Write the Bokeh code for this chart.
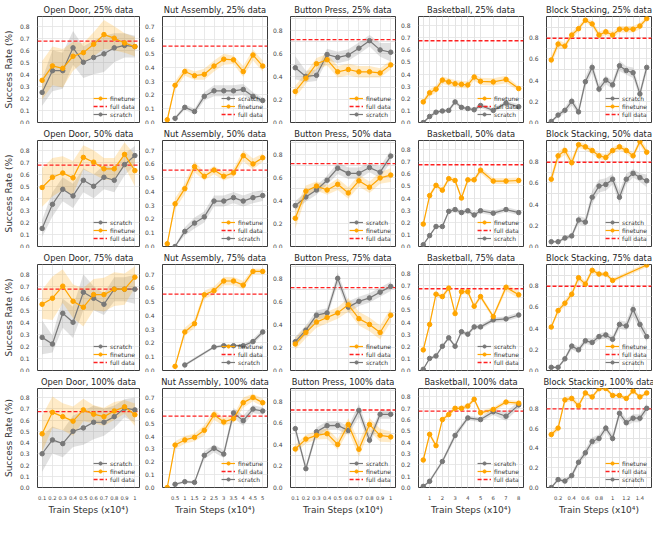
import numpy as np
from bokeh.plotting import figure
from bokeh.layouts import gridplot
from bokeh.models import FixedTicker, Range1d, Legend, LegendItem, NumeralTickFormatter
from bokeh.embed import file_html
from bokeh.resources import INLINE

# ---------------- data ----------------
TASKS = ["Open Door", "Nut Assembly", "Button Press", "Basketball", "Block Stacking"]
FRACTIONS = ["25%", "50%", "75%", "100%"]
FULL_DATA = [0.675, 0.555, 0.72, 0.675, 0.795]

OD_X = [0.1, 0.2, 0.3, 0.4, 0.5, 0.6, 0.7, 0.8, 0.9, 1.0]
BP_X = [0.1, 0.2, 0.3, 0.4, 0.5, 0.6, 0.7, 0.8, 0.9, 1.0]
NA_X_FT = [0.1, 0.5, 1.0, 1.5, 2.0, 2.5, 3.0, 3.5, 4.0, 4.5, 5.0]
NA_X_SC = [0.5, 1.0, 1.5, 2.0, 2.5, 3.0, 3.5, 4.0, 4.5, 5.0]
NA75_X_FT = [0.5, 1.0, 1.5, 2.0, 2.5, 3.0, 3.5, 4.0, 4.5, 5.0]
NA75_X_SC = [1.0, 2.5, 3.0, 3.5, 4.0, 4.5, 5.0]
BB_X = [0.5, 1.0, 1.5, 2.0, 2.5, 3.0, 3.5, 4.0, 4.5, 5.0, 6.0, 7.0, 8.0]
BB100_X_SC = [0.5, 1.0, 2.0, 3.0, 4.0, 5.0, 6.0, 7.0, 8.0]
BS_X = [0.1, 0.2, 0.3, 0.4, 0.5, 0.6, 0.7, 0.8, 0.9, 1.0, 1.1, 1.2, 1.3, 1.4, 1.5]
BS75_X_FT = [0.1, 0.2, 0.3, 0.4, 0.5, 0.6, 0.7, 0.8, 0.9, 1.0, 1.5]

# --- 25% ---
OD25_FT = [0.35, 0.47, 0.45, 0.55, 0.58, 0.65, 0.73, 0.70, 0.66, 0.63]
OD25_FT_SD = [0.16, 0.16, 0.16, 0.12, 0.08, 0.10, 0.12, 0.10, 0.08, 0.08]
OD25_SC = [0.25, 0.43, 0.43, 0.62, 0.50, 0.54, 0.57, 0.62, 0.64, 0.63]
OD25_SC_SD = [0.11, 0.17, 0.15, 0.14, 0.13, 0.14, 0.15, 0.12, 0.10, 0.09]
NA25_FT = [0.02, 0.27, 0.37, 0.34, 0.35, 0.41, 0.46, 0.455, 0.37, 0.49, 0.41]
NA25_FT_SD = [0.01, 0.03, 0.03, 0.03, 0.04, 0.04, 0.04, 0.03, 0.04, 0.04, 0.04]
NA25_SC = [0.03, 0.11, 0.08, 0.19, 0.23, 0.23, 0.23, 0.24, 0.19, 0.16]
NA25_SC_SD = [0.01, 0.02, 0.02, 0.03, 0.04, 0.04, 0.04, 0.04, 0.03, 0.02]
BP25_FT = [0.27, 0.385, 0.51, 0.545, 0.44, 0.46, 0.44, 0.44, 0.43, 0.50]
BP25_FT_SD = [0.05, 0.05, 0.05, 0.05, 0.05, 0.05, 0.05, 0.05, 0.04, 0.04]
BP25_SC = [0.475, 0.40, 0.41, 0.59, 0.565, 0.585, 0.645, 0.71, 0.63, 0.61]
BP25_SC_SD = [0.10, 0.05, 0.05, 0.05, 0.05, 0.05, 0.05, 0.05, 0.06, 0.08]
BB25_FT = [0.17, 0.245, 0.275, 0.35, 0.335, 0.32, 0.315, 0.31, 0.375, 0.34, 0.335, 0.355, 0.28]
BB25_FT_SD = [0.02, 0.03, 0.03, 0.03, 0.03, 0.03, 0.03, 0.03, 0.03, 0.03, 0.03, 0.03, 0.02]
BB25_SC = [0.0, 0.05, 0.085, 0.095, 0.10, 0.17, 0.125, 0.115, 0.105, 0.14, 0.10, 0.16, 0.13]
BB25_SC_SD = [0.005, 0.015, 0.015, 0.015, 0.015, 0.02, 0.015, 0.015, 0.015, 0.02, 0.015, 0.02, 0.02]
BS25_FT = [0.59, 0.74, 0.72, 0.825, 0.885, 0.965, 0.93, 0.825, 0.855, 0.825, 0.88, 0.88, 0.88, 0.91, 0.98]
BS25_FT_SD = [0.04, 0.04, 0.03, 0.03, 0.03, 0.02, 0.03, 0.03, 0.03, 0.03, 0.03, 0.03, 0.03, 0.03, 0.02]
BS25_SC = [0.01, 0.07, 0.115, 0.20, 0.10, 0.385, 0.52, 0.315, 0.40, 0.355, 0.535, 0.49, 0.47, 0.27, 0.52]
BS25_SC_SD = [0.01, 0.02, 0.03, 0.04, 0.03, 0.05, 0.05, 0.04, 0.04, 0.04, 0.05, 0.04, 0.05, 0.04, 0.05]

# --- 50% ---
OD50_FT = [0.49, 0.575, 0.61, 0.57, 0.74, 0.70, 0.645, 0.645, 0.765, 0.63]
OD50_FT_SD = [0.16, 0.16, 0.14, 0.14, 0.10, 0.10, 0.09, 0.09, 0.10, 0.13]
OD50_SC = [0.15, 0.35, 0.475, 0.42, 0.55, 0.50, 0.575, 0.55, 0.68, 0.755]
OD50_SC_SD = [0.07, 0.10, 0.10, 0.10, 0.10, 0.10, 0.10, 0.10, 0.09, 0.08]
NA50_FT = [0.02, 0.31, 0.42, 0.58, 0.51, 0.555, 0.51, 0.535, 0.66, 0.60, 0.645]
NA50_FT_SD = [0.01, 0.04, 0.04, 0.04, 0.03, 0.03, 0.03, 0.03, 0.04, 0.04, 0.03]
NA50_SC = [0.0, 0.11, 0.17, 0.215, 0.33, 0.33, 0.355, 0.33, 0.355, 0.37]
NA50_SC_SD = [0.005, 0.03, 0.04, 0.04, 0.04, 0.04, 0.04, 0.04, 0.04, 0.04]
BP50_FT = [0.245, 0.48, 0.525, 0.49, 0.54, 0.465, 0.57, 0.515, 0.595, 0.62]
BP50_FT_SD = [0.09, 0.05, 0.04, 0.04, 0.05, 0.05, 0.05, 0.05, 0.05, 0.06]
BP50_SC = [0.355, 0.43, 0.49, 0.575, 0.68, 0.635, 0.635, 0.685, 0.645, 0.785]
BP50_SC_SD = [0.04, 0.04, 0.04, 0.04, 0.05, 0.05, 0.05, 0.04, 0.05, 0.05]
BB50_FT = [0.185, 0.42, 0.505, 0.465, 0.56, 0.545, 0.40, 0.55, 0.55, 0.63, 0.54, 0.54, 0.545]
BB50_FT_SD = [0.02, 0.02, 0.02, 0.02, 0.02, 0.02, 0.02, 0.02, 0.02, 0.025, 0.025, 0.025, 0.025]
BB50_SC = [0.015, 0.09, 0.165, 0.165, 0.29, 0.305, 0.28, 0.295, 0.26, 0.295, 0.275, 0.305, 0.28]
BB50_SC_SD = [0.005, 0.01, 0.015, 0.015, 0.02, 0.02, 0.02, 0.02, 0.02, 0.02, 0.02, 0.02, 0.02]
BS50_FT = [0.635, 0.855, 0.905, 0.79, 0.96, 0.94, 0.905, 0.855, 0.84, 0.905, 0.94, 0.905, 0.855, 0.99, 0.89]
BS50_FT_SD = [0.05, 0.04, 0.04, 0.04, 0.03, 0.03, 0.03, 0.03, 0.03, 0.03, 0.03, 0.03, 0.03, 0.03, 0.04]
BS50_SC = [0.045, 0.045, 0.08, 0.10, 0.25, 0.23, 0.465, 0.57, 0.585, 0.635, 0.465, 0.635, 0.69, 0.65, 0.62]
BS50_SC_SD = [0.01, 0.01, 0.02, 0.02, 0.04, 0.04, 0.06, 0.06, 0.06, 0.05, 0.06, 0.05, 0.04, 0.04, 0.06]

# --- 75% ---
OD75_FT = [0.55, 0.60, 0.70, 0.575, 0.525, 0.63, 0.63, 0.675, 0.675, 0.775]
OD75_FT_SD = [0.12, 0.18, 0.14, 0.14, 0.16, 0.13, 0.14, 0.14, 0.13, 0.09]
OD75_SC = [0.275, 0.22, 0.475, 0.40, 0.65, 0.60, 0.55, 0.675, 0.675, 0.675]
OD75_SC_SD = [0.14, 0.07, 0.12, 0.13, 0.15, 0.10, 0.09, 0.10, 0.10, 0.12]
NA75_FT = [0.03, 0.28, 0.34, 0.55, 0.58, 0.65, 0.65, 0.62, 0.72, 0.72]
NA75_FT_SD = [0.01, 0.03, 0.03, 0.03, 0.03, 0.03, 0.03, 0.03, 0.02, 0.02]
NA75_SC = [0.04, 0.17, 0.18, 0.18, 0.18, 0.21, 0.28]
NA75_SC_SD = [0.01, 0.01, 0.01, 0.01, 0.01, 0.02, 0.02]
BP75_FT = [0.23, 0.33, 0.42, 0.46, 0.50, 0.57, 0.45, 0.40, 0.33, 0.48]
BP75_FT_SD = [0.05, 0.05, 0.05, 0.05, 0.05, 0.06, 0.06, 0.06, 0.06, 0.06]
BP75_SC = [0.25, 0.35, 0.48, 0.50, 0.80, 0.55, 0.60, 0.63, 0.68, 0.73]
BP75_SC_SD = [0.04, 0.04, 0.04, 0.04, 0.05, 0.05, 0.04, 0.04, 0.04, 0.04]
BB75_FT = [0.17, 0.38, 0.63, 0.61, 0.68, 0.47, 0.65, 0.65, 0.53, 0.61, 0.445, 0.687, 0.625]
BB75_FT_SD = [0.02, 0.02, 0.02, 0.02, 0.02, 0.02, 0.02, 0.02, 0.02, 0.02, 0.02, 0.03, 0.03]
BB75_SC = [0.01, 0.10, 0.12, 0.20, 0.27, 0.20, 0.32, 0.30, 0.36, 0.36, 0.418, 0.426, 0.458]
BB75_SC_SD = [0.005, 0.01, 0.01, 0.015, 0.015, 0.015, 0.015, 0.015, 0.02, 0.02, 0.02, 0.02, 0.02]
BS75_FT = [0.41, 0.565, 0.635, 0.72, 0.875, 0.815, 0.945, 0.91, 0.91, 0.85, 0.995]
BS75_FT_SD = [0.02, 0.03, 0.03, 0.03, 0.03, 0.03, 0.03, 0.02, 0.02, 0.02, 0.02]
BS75_SC = [0.03, 0.03, 0.11, 0.23, 0.195, 0.28, 0.265, 0.32, 0.335, 0.295, 0.435, 0.42, 0.575, 0.435, 0.32]
BS75_SC_SD = [0.01, 0.01, 0.02, 0.03, 0.03, 0.03, 0.03, 0.03, 0.03, 0.03, 0.04, 0.04, 0.06, 0.05, 0.05]

# --- 100% ---
OD100_FT = [0.477, 0.668, 0.63, 0.59, 0.69, 0.652, 0.63, 0.68, 0.717, 0.647]
OD100_FT_SD = [0.16, 0.14, 0.12, 0.13, 0.10, 0.08, 0.08, 0.08, 0.06, 0.10]
OD100_SC = [0.30, 0.423, 0.39, 0.50, 0.53, 0.58, 0.58, 0.63, 0.705, 0.69]
OD100_SC_SD = [0.16, 0.12, 0.12, 0.14, 0.15, 0.15, 0.12, 0.10, 0.08, 0.11]
NA100_FT = [0.0, 0.33, 0.37, 0.39, 0.445, 0.565, 0.51, 0.535, 0.66, 0.70, 0.66]
NA100_FT_SD = [0.005, 0.03, 0.03, 0.03, 0.04, 0.04, 0.03, 0.03, 0.04, 0.03, 0.03]
NA100_SC = [0.025, 0.045, 0.04, 0.25, 0.305, 0.26, 0.58, 0.52, 0.61, 0.595]
NA100_SC_SD = [0.01, 0.01, 0.01, 0.03, 0.03, 0.03, 0.04, 0.04, 0.03, 0.03]
BP100_FT = [0.358, 0.45, 0.485, 0.50, 0.40, 0.585, 0.355, 0.585, 0.485, 0.47]
BP100_FT_SD = [0.04, 0.04, 0.04, 0.05, 0.05, 0.06, 0.07, 0.06, 0.06, 0.05]
BP100_SC = [0.547, 0.175, 0.518, 0.575, 0.577, 0.53, 0.716, 0.44, 0.68, 0.68]
BP100_SC_SD = [0.04, 0.03, 0.04, 0.04, 0.04, 0.04, 0.06, 0.05, 0.04, 0.04]
BB100_FT = [0.243, 0.47, 0.37, 0.60, 0.645, 0.70, 0.70, 0.72, 0.78, 0.66, 0.69, 0.755, 0.745]
BB100_FT_SD = [0.02, 0.02, 0.02, 0.02, 0.02, 0.02, 0.02, 0.02, 0.02, 0.02, 0.02, 0.02, 0.02]
BB100_SC = [0.01, 0.055, 0.23, 0.46, 0.615, 0.60, 0.67, 0.63, 0.73]
BB100_SC_SD = [0.005, 0.015, 0.02, 0.03, 0.02, 0.02, 0.03, 0.04, 0.03]
BS100_FT = [0.535, 0.60, 0.885, 0.90, 0.825, 0.955, 0.915, 0.998, 1.0, 0.93, 0.93, 0.90, 0.975, 0.915, 0.955]
BS100_FT_SD = [0.03, 0.03, 0.03, 0.03, 0.03, 0.02, 0.02, 0.02, 0.02, 0.02, 0.02, 0.02, 0.02, 0.02, 0.02]
BS100_SC = [0.0, 0.08, 0.065, 0.12, 0.255, 0.35, 0.465, 0.495, 0.60, 0.495, 0.75, 0.655, 0.70, 0.70, 0.80]
BS100_SC_SD = [0.005, 0.02, 0.02, 0.03, 0.03, 0.04, 0.04, 0.04, 0.04, 0.04, 0.04, 0.04, 0.04, 0.04, 0.05]

# legend order per panel: f=finetune, d=full data, s=scratch
LEGEND_ORDER = [
    ["fds", "sfd", "fds", "fds", "sfd"],
    ["sfd", "fds", "sfd", "fds", "sfd"],
    ["sfd", "fds", "fds", "sfd", "fds"],
    ["sfd", "fds", "sfd", "sfd", "fds"],
]

# panel table: (x_ft, ft, ft_sd, x_sc, sc, sc_sd)
PANELS = [
    [(OD_X, OD25_FT, OD25_FT_SD, OD_X, OD25_SC, OD25_SC_SD),
     (NA_X_FT, NA25_FT, NA25_FT_SD, NA_X_SC, NA25_SC, NA25_SC_SD),
     (BP_X, BP25_FT, BP25_FT_SD, BP_X, BP25_SC, BP25_SC_SD),
     (BB_X, BB25_FT, BB25_FT_SD, BB_X, BB25_SC, BB25_SC_SD),
     (BS_X, BS25_FT, BS25_FT_SD, BS_X, BS25_SC, BS25_SC_SD)],
    [(OD_X, OD50_FT, OD50_FT_SD, OD_X, OD50_SC, OD50_SC_SD),
     (NA_X_FT, NA50_FT, NA50_FT_SD, NA_X_SC, NA50_SC, NA50_SC_SD),
     (BP_X, BP50_FT, BP50_FT_SD, BP_X, BP50_SC, BP50_SC_SD),
     (BB_X, BB50_FT, BB50_FT_SD, BB_X, BB50_SC, BB50_SC_SD),
     (BS_X, BS50_FT, BS50_FT_SD, BS_X, BS50_SC, BS50_SC_SD)],
    [(OD_X, OD75_FT, OD75_FT_SD, OD_X, OD75_SC, OD75_SC_SD),
     (NA75_X_FT, NA75_FT, NA75_FT_SD, NA75_X_SC, NA75_SC, NA75_SC_SD),
     (BP_X, BP75_FT, BP75_FT_SD, BP_X, BP75_SC, BP75_SC_SD),
     (BB_X, BB75_FT, BB75_FT_SD, BB_X, BB75_SC, BB75_SC_SD),
     (BS75_X_FT, BS75_FT, BS75_FT_SD, BS_X, BS75_SC, BS75_SC_SD)],
    [(OD_X, OD100_FT, OD100_FT_SD, OD_X, OD100_SC, OD100_SC_SD),
     (NA_X_FT, NA100_FT, NA100_FT_SD, NA_X_SC, NA100_SC, NA100_SC_SD),
     (BP_X, BP100_FT, BP100_FT_SD, BP_X, BP100_SC, BP100_SC_SD),
     (BB_X, BB100_FT, BB100_FT_SD, BB100_X_SC, BB100_SC, BB100_SC_SD),
     (BS_X, BS100_FT, BS100_FT_SD, BS_X, BS100_SC, BS100_SC_SD)],
]

# axis settings per task
Y_TICKS = [
    [0.0, 0.1, 0.2, 0.3, 0.4, 0.5, 0.6, 0.7, 0.8],
    [0.0, 0.1, 0.2, 0.3, 0.4, 0.5, 0.6, 0.7],
    [0.0, 0.2, 0.4, 0.6, 0.8],
    [0.0, 0.1, 0.2, 0.3, 0.4, 0.5, 0.6, 0.7, 0.8],
    [0.0, 0.2, 0.4, 0.6, 0.8],
]
Y_MINOR = [[], [], [0.1, 0.3, 0.5, 0.7, 0.9], [], [0.1, 0.3, 0.5, 0.7, 0.9]]
Y_TOP = [0.88, 0.77, 0.92, 0.875, 1.0]
X_TICKS = [
    [0.1, 0.2, 0.3, 0.4, 0.5, 0.6, 0.7, 0.8, 0.9, 1.0],
    [0.5, 1.0, 1.5, 2.0, 2.5, 3.0, 3.5, 4.0, 4.5, 5.0],
    [0.1, 0.2, 0.3, 0.4, 0.5, 0.6, 0.7, 0.8, 0.9, 1.0],
    [1, 2, 3, 4, 5, 6, 7, 8],
    [0.2, 0.4, 0.6, 0.8, 1.0, 1.2, 1.4],
]
X_MINOR = [[], [], [], BB_X, BS_X]
X_RANGE = [(0.055, 1.045), (-0.145, 5.245), (0.055, 1.045), (0.125, 8.375), (0.03, 1.57)]

ORANGE = "#FFA500"
GREY = "#787878"
RED = "#FF2020"
GRID = "#e3e3e3"
FONT = "DejaVu Sans"

COL_W = [141, 128, 128, 128, 128]
ROW_H = [124, 124, 124, 145]


def make_panel(r, c):
    x_ft, ft, ft_sd, x_sc, sc, sc_sd = PANELS[r][c]
    last = r == 3
    p = figure(width=COL_W[c], height=ROW_H[r],
               title=f"{TASKS[c]}, {FRACTIONS[r]} data",
               x_range=Range1d(*X_RANGE[c]), y_range=Range1d(0, Y_TOP[c]),
               output_backend="svg", toolbar_location=None,
               min_border_left=26 if c == 0 else 13, min_border_right=2,
               min_border_top=16, min_border_bottom=22 if last else 2)
    p.title.text_font = FONT
    p.title.text_font_size = "8.3px"
    p.title.text_font_style = "normal"
    p.title.text_color = "#262626"
    p.title.align = "center"
    p.title.standoff = 3
    p.outline_line_color = "#3c3c3c"
    p.outline_line_width = 1
    p.background_fill_color = "white"

    p.yaxis.ticker = FixedTicker(ticks=Y_TICKS[c], minor_ticks=Y_MINOR[c])
    p.yaxis.formatter = NumeralTickFormatter(format="0.0")
    p.xaxis.ticker = FixedTicker(ticks=X_TICKS[c], minor_ticks=X_MINOR[c])
    p.xaxis.formatter = NumeralTickFormatter(format="0.[0]")
    for ax in (p.xaxis, p.yaxis):
        ax.axis_line_color = None
        ax.major_tick_line_color = None
        ax.minor_tick_line_color = None
        ax.major_label_text_font = FONT
        ax.major_label_text_color = "#444444"
        ax.major_label_standoff = 2
    p.yaxis.major_label_text_font_size = "6px"
    p.xaxis.major_label_text_font_size = "5.2px"
    p.xgrid.grid_line_color = GRID
    p.ygrid.grid_line_color = GRID
    p.xgrid.minor_grid_line_color = GRID if X_MINOR[c] else None
    p.ygrid.minor_grid_line_color = GRID if Y_MINOR[c] else None
    p.xgrid.grid_line_width = 0.8
    p.ygrid.grid_line_width = 0.8

    if c == 0:
        p.yaxis.axis_label = "Success Rate (%)"
        p.yaxis.axis_label_text_font = FONT
        p.yaxis.axis_label_text_font_size = "9px"
        p.yaxis.axis_label_text_font_style = "normal"
        p.yaxis.axis_label_text_color = "#333333"
        p.yaxis.axis_label_standoff = 3
    if last:
        p.xaxis.axis_label = "Train Steps (x10\u2074)"
        p.xaxis.axis_label_text_font = FONT
        p.xaxis.axis_label_text_font_size = "9px"
        p.xaxis.axis_label_text_font_style = "normal"
        p.xaxis.axis_label_text_color = "#333333"
        p.xaxis.axis_label_standoff = 2
    else:
        p.xaxis.visible = False

    ft_a, ft_s = np.array(ft), np.array(ft_sd)
    sc_a, sc_s = np.array(sc), np.array(sc_sd)
    p.varea(x=x_sc, y1=sc_a - sc_s, y2=sc_a + sc_s, fill_color=GREY, fill_alpha=0.22)
    p.varea(x=x_ft, y1=ft_a - ft_s, y2=ft_a + ft_s, fill_color=ORANGE, fill_alpha=0.22)

    xr = X_RANGE[c]
    full_r = p.line(x=[xr[0], xr[1]], y=[FULL_DATA[c], FULL_DATA[c]],
                    line_color=RED, line_width=1.3, line_dash="4 2")
    sl = p.line(x=x_sc, y=sc, line_color=GREY, line_width=1.2)
    ss = p.scatter(x=x_sc, y=sc, size=4.5, fill_color=GREY, line_color=GREY)
    fl = p.line(x=x_ft, y=ft, line_color=ORANGE, line_width=1.2)
    fs = p.scatter(x=x_ft, y=ft, size=4.5, fill_color=ORANGE, line_color=ORANGE)

    items = {
        "f": LegendItem(label="finetune", renderers=[fl, fs]),
        "d": LegendItem(label="full data", renderers=[full_r]),
        "s": LegendItem(label="scratch", renderers=[sl, ss]),
    }
    legend = Legend(items=[items[k] for k in LEGEND_ORDER[r][c]],
                    location="bottom_right",
                    label_text_font=FONT, label_text_font_size="6px",
                    label_text_color="#333333",
                    glyph_width=14, glyph_height=8, label_height=8,
                    label_standoff=3, spacing=0, padding=2, margin=4,
                    border_line_color=None, background_fill_alpha=0.0)
    p.add_layout(legend)
    return p


rows = [[make_panel(r, c) for c in range(5)] for r in range(4)]
grid = gridplot(rows, toolbar_location=None)

open("out.html", "w").write(file_html(grid, INLINE))
